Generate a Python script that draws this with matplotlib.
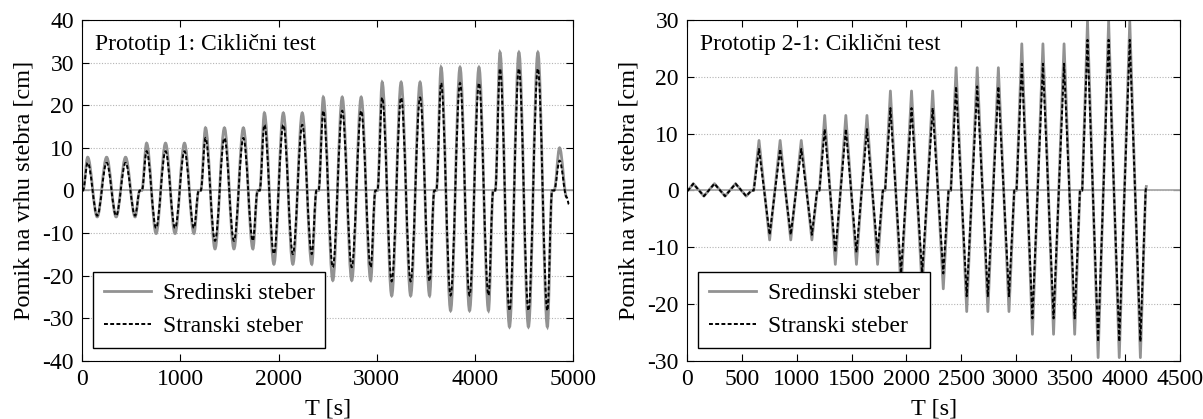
import matplotlib
matplotlib.use('Agg')
import matplotlib.pyplot as plt
from matplotlib.path import Path
from matplotlib.patches import PathPatch

plt.rcParams['font.family'] = ['Liberation Serif', 'DejaVu Serif']
plt.rcParams['axes.unicode_minus'] = False

# loading protocol: groups of 3 cycles, one group every 600 s
group_start_1 = [0, 600, 1200, 1800, 2400, 3000, 3600, 4200]
group_start_2 = [0, 600, 1200, 1800, 2400, 3000, 3600]
# turning points inside a group (s): zero, peak, trough, peak, trough, peak, trough, zero
turn_offsets = [7, 55, 152, 248, 345, 441, 538, 586]

# Prototip 1 - amplitudes per group [cm]
p1_mid_peak = [7.8, 11.1, 14.7, 18.2, 21.9, 25.4, 28.9, 32.4]
p1_mid_trough = [-6.2, -10.1, -13.7, -17.3, -21.1, -24.7, -28.2, -32.0]
p1_side_peak = [6.5, 9.2, 12.3, 15.4, 18.7, 21.8, 25.2, 28.6]
p1_side_trough = [-5.9, -8.8, -11.8, -14.9, -18.0, -21.3, -24.6, -28.2]
# last, unfinished cycle
p1_mid_tail_t = [4807, 4862, 4935]
p1_mid_tail = [0.0, 10.0, -1.6]
p1_side_tail_t = [4807, 4862, 4935, 4957]
p1_side_tail = [0.0, 7.0, -1.6, -3.2]

# Prototip 2-1 - amplitudes per group [cm]
p2_mid_peak = [1.2, 8.8, 13.2, 17.5, 21.6, 25.8, 29.8]
p2_mid_trough = [-1.0, -8.7, -13.0, -17.3, -21.3, -25.3, -29.4]
p2_side_peak = [1.2, 7.3, 10.8, 14.5, 18.3, 22.3, 26.5]
p2_side_trough = [-1.0, -7.8, -10.9, -14.6, -18.6, -22.5, -26.6]
p2_end_t = [4192]
p2_end = [0.7]

GRAY = '#929292'
FS = 17


def turning_points(starts, peaks, troughs):
    t, y = [0.0], [0.0]
    for s, p, q in zip(starts, peaks, troughs):
        t += [s + o for o in turn_offsets]
        y += [0.0, p, q, p, q, p, q, 0.0]
    return t, y


def smooth_path(t, y, k=0.36):
    # cubic segments with flat tangents at the turning points (sine-like cycles)
    verts = [(t[0], y[0])]
    codes = [Path.MOVETO]
    for i in range(1, len(t)):
        dt = t[i] - t[i - 1]
        verts += [(t[i - 1] + k * dt, y[i - 1]), (t[i] - k * dt, y[i]), (t[i], y[i])]
        codes += [Path.CURVE4] * 3
    return Path(verts, codes)


def style_axes(ax, title):
    ax.axhline(0, color='#a8a8a8', lw=1.3, zorder=1)
    ax.yaxis.grid(True, linestyle=(0, (1, 1.5)), color='#b4b4b4', lw=0.8)
    ax.set_axisbelow(True)
    ax.tick_params(direction='in', top=True, right=True, length=5,
                   labelsize=FS, pad=6)
    ax.text(0.026, 0.927, title, transform=ax.transAxes, fontsize=FS, va='center')
    ax.set_xlabel('T [s]', fontsize=FS + 0.5, labelpad=6)
    ax.set_ylabel('Pomik na vrhu stebra [cm]', fontsize=FS + 0.5, labelpad=6)
    ax.plot([], [], color=GRAY, lw=2.0, label='Sredinski steber')
    ax.plot([], [], color='black', lw=1.4, ls=(0, (2.0, 1.2)), label='Stranski steber')
    leg = ax.legend(loc='lower left', bbox_to_anchor=(0.022, 0.038), borderaxespad=0,
                    fontsize=FS, fancybox=False, framealpha=1, edgecolor='black',
                    handlelength=2.0, handletextpad=0.5, labelspacing=0.5,
                    borderpad=0.45)
    leg.get_frame().set_linewidth(1.0)


fig = plt.figure(figsize=(12.03, 4.19), dpi=100)
ax1 = fig.add_axes([0.0684, 0.1384, 0.408, 0.814])
ax2 = fig.add_axes([0.5713, 0.1384, 0.4096, 0.814])

# left: Prototip 1 (sinusoidal cycles)
t, y = turning_points(group_start_1, p1_mid_peak, p1_mid_trough)
ax1.add_patch(PathPatch(smooth_path(t + p1_mid_tail_t, y + p1_mid_tail),
                        fill=False, edgecolor=GRAY, lw=2.0, zorder=2))
t, y = turning_points(group_start_1, p1_side_peak, p1_side_trough)
ax1.add_patch(PathPatch(smooth_path(t + p1_side_tail_t, y + p1_side_tail),
                        fill=False, edgecolor='black', lw=1.4, ls=(0, (2.0, 1.2)), zorder=3))
ax1.set_xlim(0, 5000)
ax1.set_ylim(-40, 40)
ax1.set_xticks(range(0, 5001, 1000))
ax1.set_yticks(range(-40, 41, 10))
style_axes(ax1, 'Prototip 1: Ciklični test')

# right: Prototip 2-1 (triangular cycles)
t, y = turning_points(group_start_2, p2_mid_peak, p2_mid_trough)
ax2.plot(t + p2_end_t, y + p2_end, color=GRAY, lw=2.0, zorder=2)
t, y = turning_points(group_start_2, p2_side_peak, p2_side_trough)
ax2.plot(t + p2_end_t, y + p2_end, color='black', lw=1.4, ls=(0, (2.0, 1.2)), zorder=3)
ax2.set_xlim(0, 4500)
ax2.set_ylim(-30, 30)
ax2.set_xticks(range(0, 4501, 500))
ax2.set_yticks(range(-30, 31, 10))
style_axes(ax2, 'Prototip 2-1: Ciklični test')

fig.savefig('out.png', dpi=100)
